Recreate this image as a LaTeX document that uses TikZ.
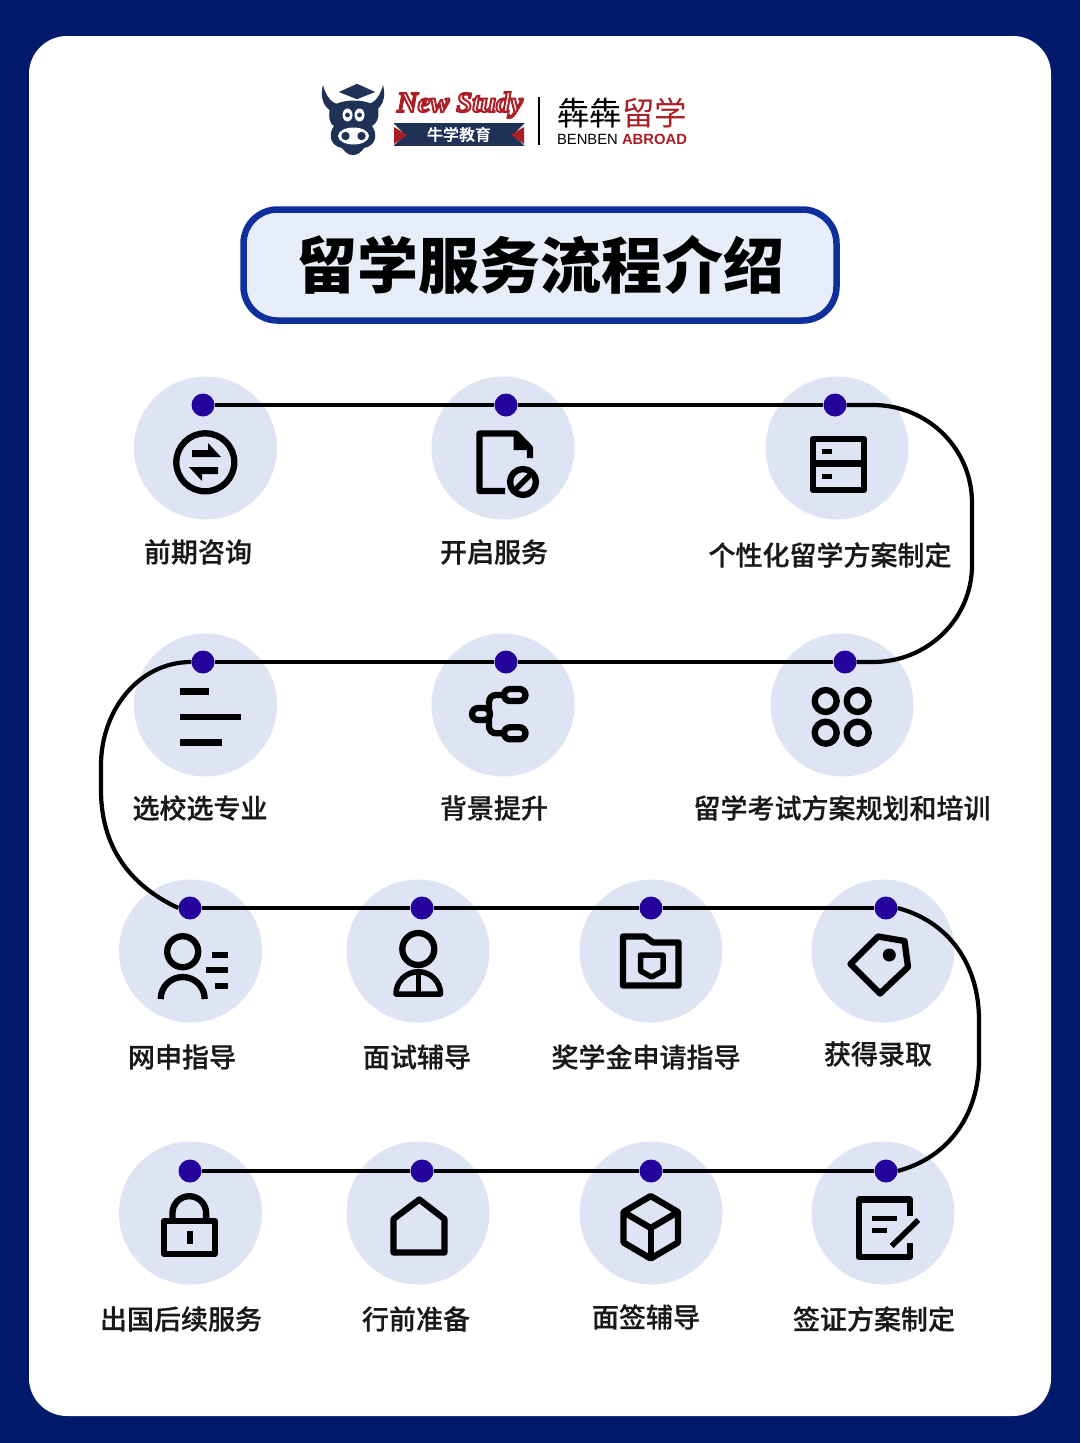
\documentclass[tikz,border=0pt]{standalone}
\usepackage{fontspec}
\setmainfont{Liberation Sans}
\newfontfamily\cjkfont{Noto Sans CJK SC}
\newfontfamily\cjkmedium[UprightFont=* Medium,UprightFeatures={FakeBold=0.5}]{Noto Sans CJK SC}
\newfontfamily\logofont{Liberation Serif}
\usetikzlibrary{positioning,calc}
\definecolor{FlowNavy}{HTML}{021A6B}
\definecolor{FlowBlue}{HTML}{0F2F9C}
\definecolor{FlowPale}{HTML}{E8EDFA}
\definecolor{FlowDisc}{HTML}{DFE4F5}
\definecolor{FlowDot}{HTML}{23039C}
\definecolor{LogoNavy}{HTML}{1F3157}
\definecolor{LogoRed}{HTML}{A81E24}

\begin{document}
\begin{tikzpicture}[
    x=1pt,y=-1pt,
    disc/.style={
      circle,
      fill=FlowDisc,
      minimum size=143pt,
      inner sep=0pt
    },
    stopdot/.style={
      circle,
      fill=FlowDot,
      minimum size=23pt,
      inner sep=0pt
    },
    steplabel/.style={
      font=\cjkmedium\fontsize{27}{30}\selectfont,
      inner sep=0pt,
      text=black!90
    },
    pathline/.style={line width=4.2pt,black},
    iconline/.style={line width=6.3pt,black,line join=round},
    thinline/.style={line width=5.5pt,black,line join=round},
    iconfill/.style={fill=black,draw=none},
    logofill/.style={fill=LogoNavy,draw=none}
  ]
    \useasboundingbox (0,0) rectangle (1080,1443);

    % Page and card
    \fill[FlowNavy] (0,0) rectangle (1080,1443);
    \fill[white,rounded corners=38pt] (29,36) rectangle (1051,1416);

    % Logo: bull
    \fill[logofill] (323,85) .. controls (318,105) and (330,114) .. (343,114) -- (344,105) .. controls (334,105) and (327,100) .. (323,85) -- cycle;
    \fill[logofill] (383,85) .. controls (388,105) and (376,114) .. (363,114) -- (362,105) .. controls (372,105) and (379,100) .. (383,85) -- cycle;
    \fill[logofill] (330,108) .. controls (340,98) and (368,98) .. (378,108) .. controls (380,118) and (376,124) .. (372,126)
      .. controls (378,134) and (376,146) .. (364,148) .. controls (361,152) and (358,155) .. (353,155)
      .. controls (348,155) and (345,152) .. (342,148) .. controls (330,146) and (328,134) .. (334,126)
      .. controls (330,124) and (328,118) .. (330,108) -- cycle;
    \fill[logofill,draw=white,line width=1.2pt] (357,83) -- (377,92) -- (357,100) -- (337,92) -- cycle;
    \fill[white] (347.5,115) ellipse (5pt and 6.5pt);
    \fill[white] (359.5,115) ellipse (5pt and 6.5pt);
    \fill[logofill] (347.5,115) circle (2.4pt);
    \fill[logofill] (359.5,115) circle (2.4pt);
    \fill[white] (353.5,136) ellipse (15.5pt and 8.5pt);
    \fill[logofill] (345.5,136) circle (4.2pt);
    \fill[logofill] (361.5,136) circle (4.2pt);

    % Logo: ribbon
    \node[inner sep=0pt,text=LogoRed,font=\logofont\bfseries\itshape\fontsize{28.5}{30}\selectfont] (brand) at (460,105) {\special{pdf:code 2 Tr 2 w 0.68 0.12 0.15 RG 1 0.95 0.95 rg}New Study\special{pdf:code 0 Tr}};
    \node[logofill,minimum width=131pt,minimum height=23pt,inner sep=0pt,text=white,font=\cjkmedium\fontsize{16}{18}\selectfont] (ribbon) at (459,134.5) {牛学教育};
    \fill[white] (393,123) -- (405,135) -- (393,146) -- cycle;
    \fill[LogoRed] (394,127) -- (407,135) -- (394,144) -- cycle;
    \fill[white] (525,123) -- (513,135) -- (525,146) -- cycle;
    \fill[LogoRed] (524,127) -- (511,135) -- (524,144) -- cycle;
    \draw[black,line width=2.5pt] (539,97) -- (539,145);
    \node[inner sep=0pt,font=\cjkfont\fontsize{32.5}{34}\selectfont] (cnname) at (622,113) {犇犇\textcolor{LogoRed}{留学}};
    \node[inner sep=0pt,font=\fontsize{14.8}{17}\selectfont] (enname) at (622,139) {BENBEN \textcolor{LogoRed}{\bfseries ABROAD}};

    % Title
    \node[draw=FlowBlue,fill=FlowPale,line width=6.5pt,rounded corners=34pt,minimum width=593pt,minimum height=111pt,inner sep=0pt,
      font=\cjkfont\bfseries\fontsize{61}{64}\selectfont] (title) at (540,265) {\raisebox{-1pt}{留学服务流程介绍}};

    % Discs
    \node[disc] (c1) at (205.5,448) {};
    \node[disc] (c2) at (503,448) {};
    \node[disc] (c3) at (837,448) {};
    \node[disc] (c4) at (205.5,705) {};
    \node[disc] (c5) at (503,705) {};
    \node[disc] (c6) at (842,705) {};
    \node[disc] (c7) at (190.5,951) {};
    \node[disc] (c8) at (418,951) {};
    \node[disc] (c9) at (651,951) {};
    \node[disc] (c10) at (883,951) {};
    \node[disc] (c11) at (190.5,1213) {};
    \node[disc] (c12) at (418,1213) {};
    \node[disc] (c13) at (651,1213) {};
    \node[disc] (c14) at (883,1213) {};

    % Route
    \node[stopdot] (d1) at (203,405) {};
    \node[stopdot] (d2) at (506,405) {};
    \node[stopdot] (d3) at (835,405) {};
    \node[stopdot] (d4) at (203,662) {};
    \node[stopdot] (d5) at (506,662) {};
    \node[stopdot] (d6) at (845,662) {};
    \node[stopdot] (d7) at (190,908) {};
    \node[stopdot] (d8) at (422,908) {};
    \node[stopdot] (d9) at (651,908) {};
    \node[stopdot] (d10) at (886,908) {};
    \node[stopdot] (d11) at (190,1171) {};
    \node[stopdot] (d12) at (422,1171) {};
    \node[stopdot] (d13) at (651,1171) {};
    \node[stopdot] (d14) at (886,1171) {};

    \coordinate (r1) at (873,405);
    \coordinate (r2) at (972,503);
    \coordinate (r3) at (972,565);
    \coordinate (r4) at (873,662);
    \coordinate (l1) at (101,765);
    \coordinate (l2) at (101,790);
    \coordinate (s2) at (979,1020);
    \coordinate (s3) at (979,1060);
    \draw[pathline] (d1) -- (d2);
    \draw[pathline] (d2) -- (d3);
    \draw[pathline] (d3) -- (r1) to[out=0,in=90] (r2) -- (r3) to[out=-90,in=0] (r4) -- (d6);
    \draw[pathline] (d6) -- (d5);
    \draw[pathline] (d5) -- (d4);
    \draw[pathline] (d4.west) to[out=180,in=90] (l1) -- (l2) to[out=-90,in=155] (d7.west);
    \draw[pathline] (d7) -- (d8);
    \draw[pathline] (d8) -- (d9);
    \draw[pathline] (d9) -- (d10);
    \draw[pathline] (d10.east) to[out=-15,in=90] (s2) -- (s3) to[out=-90,in=15] (d14.east);
    \draw[pathline] (d14) -- (d13);
    \draw[pathline] (d13) -- (d12);
    \draw[pathline] (d12) -- (d11);

    % Icon 1: exchange
    \draw[iconline] (205.3,462.3) circle (29pt);
    \fill[iconfill] (192,450) -- (208,450) -- (208,443) -- (221,457) -- (192,457) -- cycle;
    \fill[iconfill] (218,467) -- (189,467) -- (202,481) -- (202,474) -- (218,474) -- cycle;

    % Icon 2: file
    \draw[iconline] (530,458) -- (530,448) -- (516,433.5) -- (479.5,433.5) -- (479.5,491) -- (505,491);
    \fill[iconfill] (513.5,432) -- (532,450) -- (513.5,450) -- cycle;
    \draw[iconline] (523,482) circle (13pt);
    \draw[thinline] (516,489) -- (530,475);

    % Icon 3: drawers
    \draw[iconline] (813,439) rectangle (864,490);
    \draw[iconline] (813,463.5) -- (864,463.5);
    \fill[iconfill] (822,449) rectangle (832,454);
    \fill[iconfill] (822,474) rectangle (832,479);

    % Icon 4: list
    \fill[iconfill] (180,688.3) rectangle (209,695);
    \fill[iconfill] (180,713.7) rectangle (240.7,720.3);
    \fill[iconfill] (180,739.3) rectangle (221.7,746);

    % Icon 5: tree
    \draw[iconline,rounded corners=7pt] (515,695) -- (489,695) -- (489,733.3) -- (515,733.3);
    \draw[iconline,fill=FlowDisc,rounded corners=6pt] (504,689) rectangle (525.5,701);
    \draw[iconline,fill=FlowDisc,rounded corners=6pt] (504,727.3) rectangle (525.5,739.3);
    \draw[iconline,fill=FlowDisc,rounded corners=6pt] (472,708) rectangle (490,720);

    % Icon 6: four rings
    \draw[iconline] (825.7,701) circle (11pt);
    \draw[iconline] (857.7,701) circle (11pt);
    \draw[iconline] (825.7,732.7) circle (11pt);
    \draw[iconline] (857.7,732.7) circle (11pt);

    % Icon 7: person with list
    \draw[iconline] (182.7,951.7) circle (15.5pt);
    \draw[iconline] (160.7,999) arc[start angle=180,end angle=0,radius=22pt];
    \fill[iconfill] (212.3,951.7) rectangle (227.7,958.3);
    \fill[iconfill] (205.7,967.3) rectangle (227.7,973.3);
    \fill[iconfill] (215,983.3) rectangle (227.7,989.3);

    % Icon 8: person
    \draw[iconline] (418.3,949) circle (16pt);
    \draw[thinline] (396,994) arc[start angle=180,end angle=0,radius=22.3pt] -- cycle;
    \draw[thinline] (418.3,973) -- (418.3,994);

    % Icon 9: folder
    \draw[iconline] (623,936.5) -- (645,936.5) -- (653,942.5) -- (678.5,942.5) -- (678.5,985.5) -- (623,985.5) -- cycle;
    \draw[thinline] (640.5,955) -- (663,955) -- (663,971) -- (651.5,977) -- (640.5,971) -- cycle;

    % Icon 10: tag
    \draw[iconline] (878,936.5) -- (904.5,941) -- (908,967) -- (880,993.5) -- (850.5,964) -- cycle;
    \fill[iconfill] (889.3,955) circle (6.5pt);

    % Icon 11: lock
    \draw[iconline] (164,1221) rectangle (214.7,1253.7);
    \draw[iconline] (172.5,1220) -- (172.5,1213) arc[start angle=180,end angle=0,radius=16.8pt] -- (206.1,1220);
    \fill[iconfill] (186.7,1231) rectangle (192.7,1244);

    % Icon 12: house
    \draw[iconline] (419.3,1199.5) -- (444.5,1219) -- (444.5,1252.5) -- (393.5,1252.5) -- (393.5,1219) -- cycle;

    % Icon 13: cube
    \draw[iconline] (650.7,1196) -- (678,1212) -- (678,1242.5) -- (650.7,1258.5) -- (623.5,1242.5) -- (623.5,1212) -- cycle;
    \draw[iconline] (623.5,1212) -- (650.7,1228) -- (678,1212);
    \draw[iconline] (650.7,1228) -- (650.7,1258.5);

    % Icon 14: note
    \draw[iconline] (910,1216) -- (910,1199.5) -- (859,1199.5) -- (859,1257) -- (910,1257) -- (910,1243);
    \draw[thinline] (871.7,1218.7) -- (896.7,1218.7);
    \draw[thinline] (871.7,1230.7) -- (886.7,1230.7);
    \draw[thinline] (891.7,1246) -- (918.3,1220);

    % Labels
    \node[steplabel] (t1) at (198,552) {前期咨询};
    \node[steplabel] (t2) at (494,552) {开启服务};
    \node[steplabel] (t3) at (830,555) {个性化留学方案制定};
    \node[steplabel] (t4) at (200,808) {选校选专业};
    \node[steplabel] (t5) at (494,808) {背景提升};
    \node[steplabel] (t6) at (842,808) {留学考试方案规划和培训};
    \node[steplabel] (t7) at (182,1057) {网申指导};
    \node[steplabel] (t8) at (417,1057) {面试辅导};
    \node[steplabel] (t9) at (646,1057) {奖学金申请指导};
    \node[steplabel] (t10) at (878,1054) {获得录取};
    \node[steplabel] (t11) at (181,1319) {出国后续服务};
    \node[steplabel] (t12) at (416,1319) {行前准备};
    \node[steplabel] (t13) at (646,1317) {面签辅导};
    \node[steplabel] (t14) at (874,1319) {签证方案制定};
  \end{tikzpicture}
\end{document}
